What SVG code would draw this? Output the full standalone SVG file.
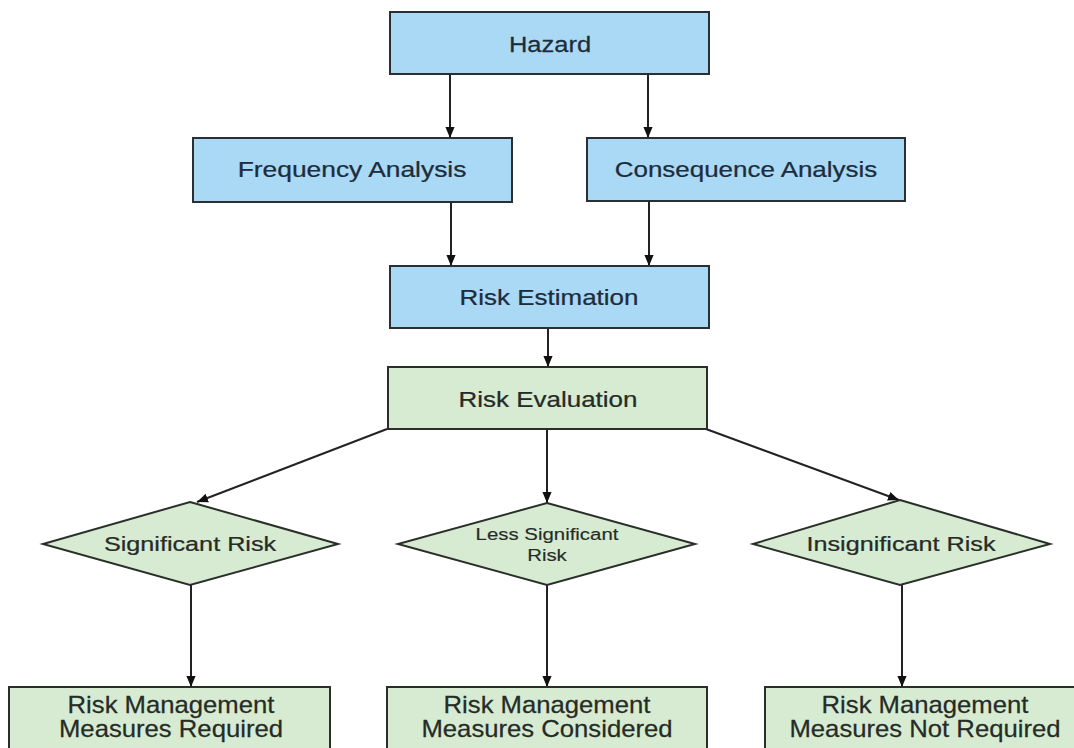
<svg xmlns="http://www.w3.org/2000/svg" width="1074" height="748" viewBox="0 0 1074 748">
<defs>
<style>
.bg{fill:#ffffff}
.blue{fill:#aad9f5;stroke:#2a2f33;stroke-width:2}
.green{fill:#d7ebd3;stroke:#2a2f2a;stroke-width:2}
.t{font-family:"Liberation Sans",Arial,sans-serif;text-anchor:middle;stroke-width:0.25}
.tb{fill:#1d2c3a;stroke:#1d2c3a;font-size:22px}
.tg{fill:#262b26;stroke:#262b26;font-size:22px}
.td{fill:#262b26;stroke:#262b26;font-size:21px}
.ts{fill:#262b26;stroke:#262b26;font-size:17px;stroke-width:0.15}
.tm{fill:#262b26;stroke:#262b26;font-size:24px}
.c{fill:none;stroke:#222;stroke-width:2}
</style>
<marker id="ah2" viewBox="0 0 12 12" refX="12" refY="6" markerWidth="11" markerHeight="11" markerUnits="userSpaceOnUse" orient="auto">
<path d="M0,1 L12,6 L0,11 Z" fill="#111"/>
</marker>
</defs>
<rect class="bg" x="0" y="0" width="1074" height="748"/>

<g id="connectors">
<line class="c" x1="450" y1="74" x2="450" y2="138" marker-end="url(#ah2)"/>
<line class="c" x1="648" y1="74" x2="648" y2="138" marker-end="url(#ah2)"/>
<line class="c" x1="451" y1="202" x2="451" y2="266" marker-end="url(#ah2)"/>
<line class="c" x1="649" y1="201" x2="649" y2="266" marker-end="url(#ah2)"/>
<line class="c" x1="548" y1="328" x2="548" y2="367" marker-end="url(#ah2)"/>
<line class="c" x1="387" y1="429" x2="197" y2="502" marker-end="url(#ah2)"/>
<line class="c" x1="547" y1="429" x2="547" y2="503" marker-end="url(#ah2)"/>
<line class="c" x1="706" y1="429" x2="899" y2="500" marker-end="url(#ah2)"/>
<line class="c" x1="191" y1="585" x2="191" y2="687" marker-end="url(#ah2)"/>
<line class="c" x1="547" y1="585" x2="547" y2="687" marker-end="url(#ah2)"/>
<line class="c" x1="902" y1="585" x2="902" y2="687" marker-end="url(#ah2)"/>
</g>

<g id="hazard">
<rect class="blue" x="390" y="12" width="319" height="62"/>
<text class="t tb" transform="translate(550,52) scale(1.16,1)">Hazard</text>
</g>
<g id="frequency-analysis">
<rect class="blue" x="193" y="138" width="319" height="64"/>
<text class="t tb" transform="translate(352,177) scale(1.2,1)">Frequency Analysis</text>
</g>
<g id="consequence-analysis">
<rect class="blue" x="587" y="138" width="318" height="63"/>
<text class="t tb" transform="translate(746,177) scale(1.18,1)">Consequence Analysis</text>
</g>
<g id="risk-estimation">
<rect class="blue" x="390" y="266" width="319" height="62"/>
<text class="t tb" transform="translate(549,305) scale(1.18,1)">Risk Estimation</text>
</g>
<g id="risk-evaluation">
<rect class="green" x="388" y="367" width="319" height="62"/>
<text class="t tg" transform="translate(548,407) scale(1.18,1)">Risk Evaluation</text>
</g>

<g id="significant-risk">
<polygon class="green" points="190,502 338,544 190,585 43,544"/>
<text class="t td" transform="translate(190,551) scale(1.2,1)">Significant Risk</text>
</g>
<g id="less-significant-risk">
<polygon class="green" points="547,503 695,544 547,585 398,544"/>
<text class="t ts" transform="translate(547,540) scale(1.2,1)">Less Significant</text>
<text class="t ts" transform="translate(547,561) scale(1.2,1)">Risk</text>
</g>
<g id="insignificant-risk">
<polygon class="green" points="900,500 1050,544 900,585 753,544"/>
<text class="t td" transform="translate(901,551) scale(1.2,1)">Insignificant Risk</text>
</g>

<g id="measures-required">
<rect class="green" x="9" y="687" width="321" height="80"/>
<text class="t tm" transform="translate(171,713) scale(1.07,1)">Risk Management</text>
<text class="t tm" transform="translate(171,737) scale(1.07,1)">Measures Required</text>
</g>
<g id="measures-considered">
<rect class="green" x="387" y="687" width="320" height="80"/>
<text class="t tm" transform="translate(547,713) scale(1.07,1)">Risk Management</text>
<text class="t tm" transform="translate(547,737) scale(1.07,1)">Measures Considered</text>
</g>
<g id="measures-not-required">
<rect class="green" x="765" y="687" width="320" height="80"/>
<text class="t tm" transform="translate(925,713) scale(1.07,1)">Risk Management</text>
<text class="t tm" transform="translate(925,737) scale(1.07,1)">Measures Not Required</text>
</g>
</svg>
